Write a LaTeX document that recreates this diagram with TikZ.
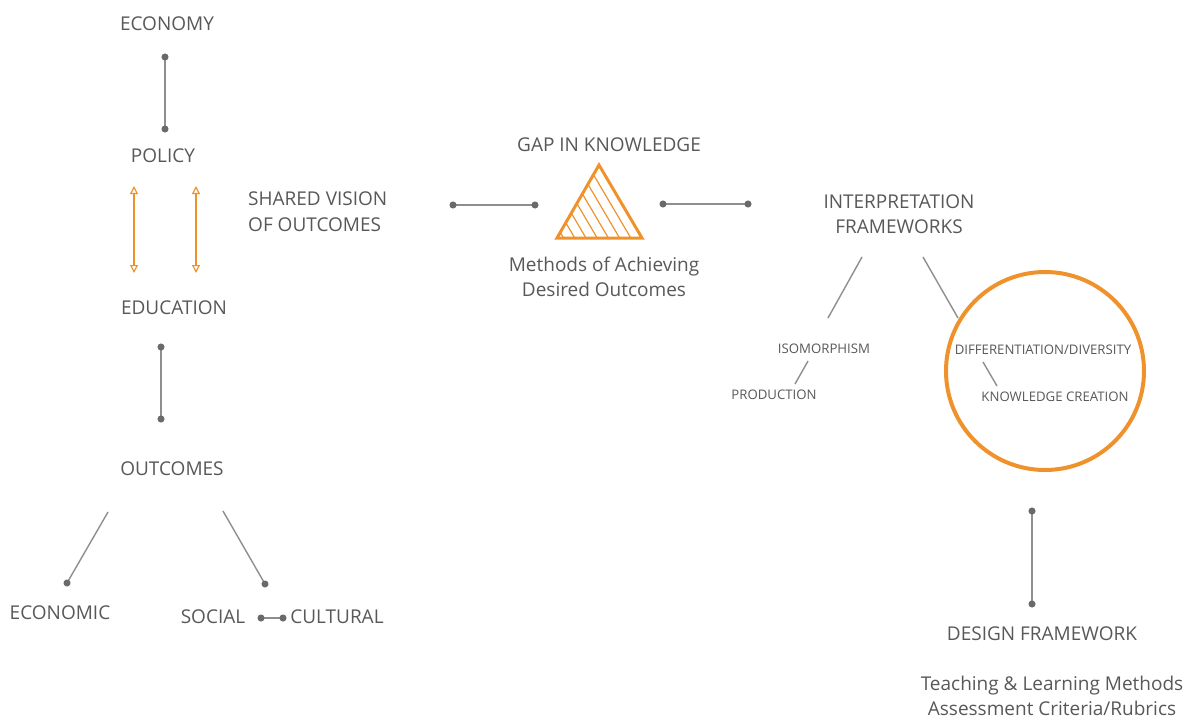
\documentclass[tikz,border=0pt]{standalone}
\usepackage{fontspec}
\setmainfont{Open Sans}
\usetikzlibrary{arrows.meta}
\definecolor{txtgray}{HTML}{585858}
\definecolor{linegray}{HTML}{8E8E8E}
\definecolor{dotgray}{HTML}{6A6A6A}
\definecolor{accent}{HTML}{F0922B}
\tikzset{
  lbl/.style={text=txtgray, font=\fontsize{19}{25}\selectfont, inner sep=0pt, align=center},
  small/.style={text=txtgray, font=\fontsize{13.2}{15}\selectfont, inner sep=0pt},
  link/.style={draw=linegray, line width=1.4pt},
  dotlink/.style={link, shorten <=-3.5pt, shorten >=-3.5pt, {Circle[length=7pt,color=dotgray]}-{Circle[length=7pt,color=dotgray]}},
  enddot/.style={link, shorten >=-3.5pt, -{Circle[length=7pt,color=dotgray]}},
  twoway/.style={draw=accent, line width=1.2pt, {Triangle[open,length=8pt,width=8pt]}-{Triangle[open,length=8pt,width=8pt]}}
}
\begin{document}
\begin{tikzpicture}
        [x=1pt,y=-1pt]
        \useasboundingbox (0,0) rectangle (1194,720);

        % left column
        \node[lbl] (econ) at (167,24) {ECONOMY};
        \node[lbl] (policy) at (163,156) {POLICY};
        \node[lbl] (edu) at (174,308) {EDUCATION};
        \node[lbl] (outc) at (172,469) {OUTCOMES};
        \node[lbl, anchor=west] (shared) at (248,213) {\begin{tabular}{@{}l@{}}SHARED VISION\\[1pt]OF OUTCOMES\end{tabular}};
        \node[lbl] (economic) at (60,613) {ECONOMIC};
        \node[lbl] (social) at (213,617) {SOCIAL};
        \node[lbl] (cultural) at (337,617) {CULTURAL};

        \coordinate (a1) at (165,57);
        \coordinate (a2) at (165,129);
        \coordinate (b1) at (161,347);
        \coordinate (b2) at (161,419);
        \coordinate (c1) at (108,512);
        \coordinate (c2) at (67,583);
        \coordinate (d1) at (223,511);
        \coordinate (d2) at (265,584);
        \coordinate (e1) at (261,618);
        \coordinate (e2) at (283,618);

        \draw[dotlink] (a1) -- (a2);
        \draw[dotlink] (b1) -- (b2);
        \draw[enddot] (c1) -- (c2);
        \draw[enddot] (d1) -- (d2);
        \draw[dotlink] (e1) -- (e2);

        \draw[twoway] (134,186) -- (134,273);
        \draw[twoway] (196,186) -- (196,273);

        % gap in knowledge
        \node[lbl] (gap) at (609,145) {GAP IN KNOWLEDGE};
        \node[lbl] (methods) at (604,277) {Methods of Achieving\\Desired Outcomes};
        \coordinate (top) at (599,165);
        \coordinate (bl) at (557,238);
        \coordinate (br) at (642,238);
        \begin{scope}
          \clip (top) -- (bl) -- (br) -- cycle;
          \foreach \i in {1,...,7}
          {\draw[accent, line width=1.2pt] (642-\i*11.2,238) -- ++(-43,-73);}
        \end{scope}
        \draw[accent, line width=3pt, line join=miter] (top) -- (bl) -- (br) -- cycle;

        \coordinate (f1) at (453,205);
        \coordinate (f2) at (535,205);
        \coordinate (g1) at (663,204);
        \coordinate (g2) at (748,204);
        \draw[dotlink] (f1) -- (f2);
        \draw[dotlink] (g1) -- (g2);

        % right side
        \node[lbl] (interp) at (899,214) {INTERPRETATION\\FRAMEWORKS};
        \node[small] (iso) at (824,349) {ISOMORPHISM};
        \node[small] (prod) at (774,395) {PRODUCTION};
        \node[small] (diff) at (1043,350) {DIFFERENTIATION/DIVERSITY};
        \node[small] (know) at (1055,397) {KNOWLEDGE CREATION};
        \draw[accent, line width=4pt] (1045,371) circle (99);

        \draw[link] (862,257) -- (828,318);
        \draw[link] (923,257) -- (958,318);
        \draw[link] (808,361) -- (795,384);
        \draw[link] (983,362) -- (997,386);

        \coordinate (h1) at (1032,511);
        \coordinate (h2) at (1032,604);
        \draw[dotlink] (h1) -- (h2);
        \node[lbl] (design) at (1042,634) {DESIGN FRAMEWORK};
        \node[lbl] (teach) at (1052,696) {Teaching \& Learning Methods\\Assessment Criteria/Rubrics};
      \end{tikzpicture}
\end{document}
